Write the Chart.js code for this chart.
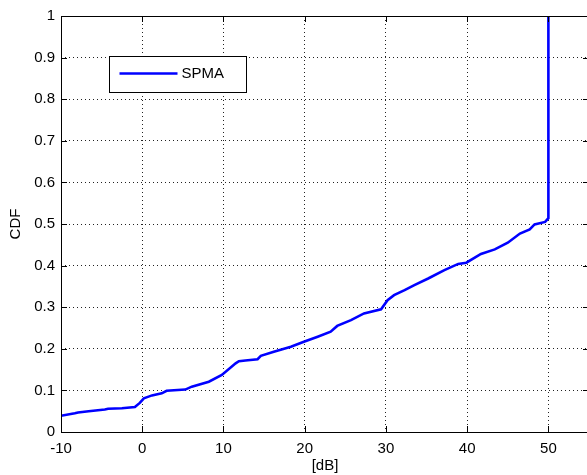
<!DOCTYPE html>
<html>
<head>
<meta charset="utf-8">
<script src="https://cdn.jsdelivr.net/npm/chart.js@4/dist/chart.umd.min.js"></script>
<style>
  html, body { margin: 0; padding: 0; background: #fff; overflow: hidden; }
  #wrap { width: 592px; height: 475px; }
</style>
</head>
<body>
<div id="wrap"><canvas id="c" width="592" height="475"></canvas></div>
<script>
// Empirical CDF of the SPMA margin, in dB
const cdfX = [-10, -8.3, -7.9, -6.6, -4.6, -4.2, -2.5, -0.9, -0.3, 0.2, 1.2, 2.4, 3.0, 5.3, 6.1, 8.2, 9.8,
  11.5, 11.9, 12.7, 14.2, 14.6, 16.2, 18.3, 19.9, 21.6, 23.2, 24.0, 25.7, 27.3, 29.4, 30.2,
  31.0, 32.3, 33.5, 35.2, 37.2, 38.9, 39.9, 41.7, 43.4, 45.0, 46.5, 47.7, 48.3, 49.6, 50, 50];
const cdfY = [0.039, 0.045, 0.047, 0.050, 0.054, 0.056, 0.057, 0.060, 0.070, 0.081, 0.088, 0.093, 0.099, 0.102, 0.109, 0.121, 0.137,
  0.165, 0.170, 0.172, 0.175, 0.183, 0.193, 0.205, 0.217, 0.229, 0.241, 0.255, 0.269, 0.285, 0.295, 0.317,
  0.329, 0.341, 0.353, 0.369, 0.389, 0.404, 0.407, 0.428, 0.439, 0.455, 0.477, 0.487, 0.499, 0.505, 0.514, 1.0];

const xTicks = [-10, 0, 10, 20, 30, 40, 50];
const yTicks = [0, 0.1, 0.2, 0.3, 0.4, 0.5, 0.6, 0.7, 0.8, 0.9, 1];
const seriesName = 'SPMA';
const xTitle = '[dB]';
const yTitle = 'CDF';

const FONT = '"Liberation Sans", Arial, Helvetica, sans-serif';

// Axes box with inward tick marks on all four sides, MATLAB style
const boxPlugin = {
  id: 'box',
  afterDatasetsDraw(chart) {
    const { ctx, chartArea: a, scales: { x, y } } = chart;
    ctx.save();
    ctx.strokeStyle = '#000';
    ctx.lineWidth = 1;
    const tl = 6;
    ctx.beginPath();
    xTicks.forEach(v => {
      const px = Math.round(x.getPixelForValue(v)) + 0.5;
      ctx.moveTo(px, a.bottom); ctx.lineTo(px, a.bottom - tl);
      ctx.moveTo(px, a.top); ctx.lineTo(px, a.top + tl);
    });
    yTicks.forEach(v => {
      const py = Math.round(y.getPixelForValue(v)) + 0.5;
      ctx.moveTo(a.left, py); ctx.lineTo(a.left + tl, py);
      ctx.moveTo(a.right, py); ctx.lineTo(a.right - tl, py);
    });
    ctx.stroke();
    ctx.strokeRect(Math.round(a.left) + 0.5, Math.round(a.top) + 0.5,
      Math.round(a.right - a.left), Math.round(a.bottom - a.top));

    // Legend box
    const ds = chart.data.datasets[0];
    const lx = Math.round(a.left + 48) + 0.5, ly = Math.round(a.top + 40) + 0.5;
    const lw = 137, lh = 36;
    ctx.fillStyle = '#fff';
    ctx.fillRect(lx, ly, lw, lh);
    ctx.strokeStyle = '#000';
    ctx.strokeRect(lx, ly, lw, lh);
    ctx.strokeStyle = ds.borderColor;
    ctx.lineWidth = 2.5;
    ctx.beginPath();
    ctx.moveTo(lx + 10, ly + 17);
    ctx.lineTo(lx + 68, ly + 17);
    ctx.stroke();
    ctx.fillStyle = '#000';
    ctx.font = '15px ' + FONT;
    ctx.textBaseline = 'middle';
    ctx.textAlign = 'left';
    ctx.fillText(ds.label, lx + 72, ly + 17.5);
    ctx.restore();
  }
};

const fmt = (list) => function (v) {
  return list.some(t => Math.abs(t - v) < 1e-9) ? String(+Number(v).toFixed(1)) : '';
};

new Chart(document.getElementById('c'), {
  type: 'scatter',
  data: {
    datasets: [{
      label: seriesName,
      data: cdfX.map((v, i) => ({ x: v, y: cdfY[i] })),
      showLine: true,
      borderColor: '#0000ff',
      borderWidth: 2.6,
      pointRadius: 0,
      tension: 0,
      fill: false
    }]
  },
  options: {
    responsive: false,
    animation: false,
    layout: { padding: { top: 16, right: 3, left: 0, bottom: 0 } },
    plugins: { legend: { display: false }, tooltip: { enabled: false } },
    scales: {
      x: {
        type: 'linear',
        min: -10, max: 55,
        afterBuildTicks: s => { s.ticks = xTicks.map(v => ({ value: v })); },
        afterFit: s => { s.height = 43; },
        grid: { color: '#222', lineWidth: 1, drawTicks: false, tickLength: 0 },
        border: { display: false, dash: [1, 3] },
        ticks: { padding: 8, color: '#000', font: { family: FONT, size: 15 }, maxRotation: 0, callback: fmt(xTicks) },
        title: { display: true, text: xTitle, color: '#000', font: { family: FONT, size: 15 }, padding: { top: 0, bottom: 0 } }
      },
      y: {
        type: 'linear',
        min: 0, max: 1,
        afterBuildTicks: s => { s.ticks = yTicks.map(v => ({ value: v })); },
        afterFit: s => { s.width = 61; },
        grid: { color: '#222', lineWidth: 1, drawTicks: false, tickLength: 0 },
        border: { display: false, dash: [1, 3] },
        ticks: { padding: 6, color: '#000', font: { family: FONT, size: 15 }, callback: fmt(yTicks) },
        title: { display: true, text: yTitle, color: '#000', font: { family: FONT, size: 15 }, padding: { top: 7, bottom: 0 } }
      }
    }
  },
  plugins: [boxPlugin]
});
</script>
</body>
</html>
